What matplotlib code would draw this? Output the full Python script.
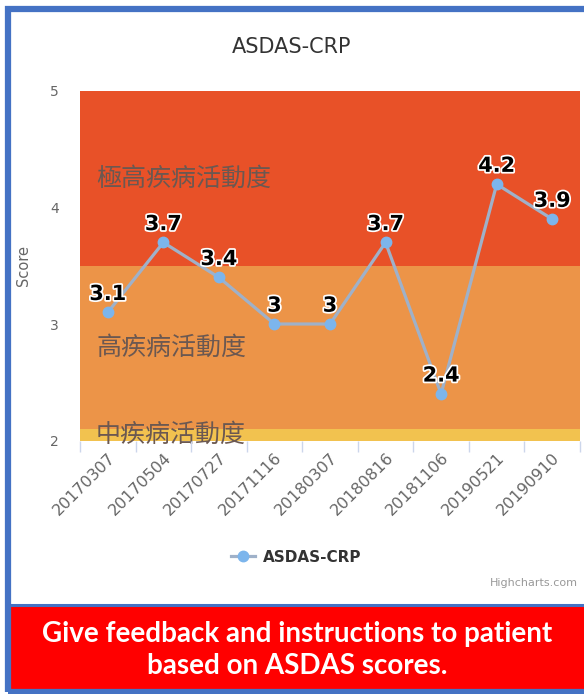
import matplotlib.pyplot as plt
import matplotlib.patheffects as pe
from matplotlib.patches import Rectangle
from matplotlib.lines import Line2D

# ASDAS-CRP scores per visit
dates = ["20170307", "20170504", "20170727", "20171116", "20180307",
         "20180816", "20181106", "20190521", "20190910"]
scores = [3.1, 3.7, 3.4, 3, 3, 3.7, 2.4, 4.2, 3.9]

# disease activity bands (low, high, colour, label)
band_lo = [3.5, 2.1, 1.3]
band_hi = [5.0, 3.5, 2.1]
band_colors = ["#e85128", "#ec9448", "#f2c24f"]
band_labels = ["極高疾病活動度", "高疾病活動度", "中疾病活動度"]

W, H = 584, 694
fig = plt.figure(figsize=(W / 100, H / 100), dpi=100)


def px(x, y):
    # pixel position (from top-left) to figure fraction
    return x / W, 1 - y / H


ax_l, ax_r, ax_t, ax_b = 80, 580, 91, 440.5
ax = fig.add_axes([ax_l / W, 1 - ax_b / H, (ax_r - ax_l) / W, (ax_b - ax_t) / H])
ymin, ymax = 2, 5
ax.set_ylim(ymin, ymax)
ax.set_xlim(-0.5, len(dates) - 0.5)

cjk = ["Noto Sans CJK TC", "DejaVu Sans"]
for lo, hi, c, lab in zip(band_lo, band_hi, band_colors, band_labels):
    ax.axhspan(max(lo, ymin), min(hi, ymax), color=c, lw=0, zorder=0)
    mid = (max(lo, ymin) + min(hi, ymax)) / 2
    ax.text(0.032, mid, lab, transform=ax.get_yaxis_transform(), fontsize=18,
            color="#6b5851", va="center", ha="left", family=cjk, zorder=1)

xs = list(range(len(dates)))
ax.plot(xs, scores, color="#9fb1c9", lw=2.3, zorder=3, clip_on=False)
ax.plot(xs, scores, "o", color="#7cb5ec", ms=7.5, zorder=4, clip_on=False)

for x, s in zip(xs, scores):
    ax.annotate(f"{s:g}", (x, s), xytext=(0, 6), textcoords="offset points",
                ha="center", va="bottom", fontsize=15, fontweight="bold",
                color="black", zorder=5,
                path_effects=[pe.withStroke(linewidth=2.5, foreground="white")])

for sp in ax.spines.values():
    sp.set_visible(False)
ax.set_yticks([2, 3, 4, 5])
ax.tick_params(axis="y", length=0, pad=15, labelsize=10, labelcolor="#666666")
ax.set_xticks(xs)
ax.set_xticklabels(dates, rotation=45, ha="right", va="top",
                   rotation_mode="anchor", fontsize=11.5, color="#666666")
ax.tick_params(axis="x", length=0, pad=7)
ax.set_xticks([i - 0.5 for i in range(len(dates) + 1)], minor=True)
ax.tick_params(axis="x", which="minor", length=8, color="#ccd6eb", width=1)
ax.set_ylabel("Score", fontsize=10.5, color="#666666", labelpad=14)

fig.text(*px(292, 47), "ASDAS-CRP", fontsize=15, color="#333333",
         ha="center", va="center")

handle = Line2D([], [], color="#9fb1c9", lw=2.3, marker="o",
                markerfacecolor="#7cb5ec", markeredgecolor="#7cb5ec", ms=7.5)
leg = fig.legend([handle], ["ASDAS-CRP"], loc="center",
                 bbox_to_anchor=px(296, 557), frameon=False,
                 handlelength=1.6, handletextpad=0.5,
                 prop={"weight": "bold", "size": 11})
leg.get_texts()[0].set_color("#333333")

fig.text(*px(578, 583), "Highcharts.com", fontsize=8, color="#999999",
         ha="right", va="center")

# red call-out box at the bottom
fig.add_artist(Rectangle(px(11, 692), (W - 11) / W, 86 / H,
                         transform=fig.transFigure, color="#ff0000", lw=0))
fig.add_artist(Line2D([11 / W, 1], [1 - 604.5 / H] * 2, color="#4472c4", lw=2.2))
note = "Give feedback and instructions to patient\nbased on ASDAS scores."
fig.text(*px(297, 650), note, fontsize=20, color="white", fontweight="bold",
         family="Lato", ha="center", va="center", linespacing=1.3)

# blue frame around everything
fig.add_artist(Rectangle(px(8, 692), 1.0, (692 - 9) / H, transform=fig.transFigure,
                         fill=False, ec="#4472c4", lw=4.5))

fig.savefig("out.png", dpi=100)
